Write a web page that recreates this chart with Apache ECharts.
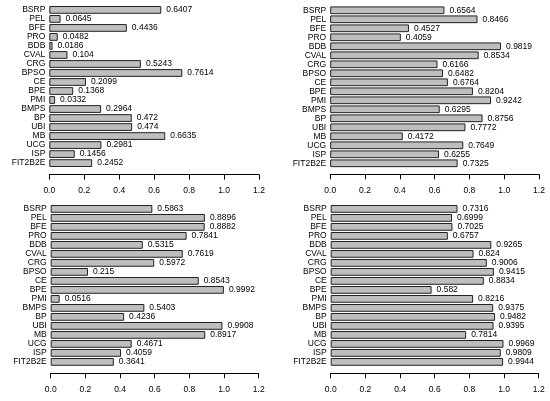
<!DOCTYPE html>
<html>
<head>
<meta charset="utf-8">
<script src="https://cdn.jsdelivr.net/npm/echarts@6/dist/echarts.min.js"></script>
<style>html,body{margin:0;padding:0;background:#fff}#c{width:550px;height:401px}</style>
</head>
<body>
<div id="c"></div>
<script>
const categories = ['BSRP','PEL','BFE','PRO','BDB','CVAL','CRG','BPSO','CE','BPE','PMI','BMPS','BP','UBI','MB','UCG','ISP','FIT2B2E'];
const panelTopLeft = [0.6407,0.0645,0.4436,0.0482,0.0186,0.104,0.5243,0.7614,0.2099,0.1368,0.0332,0.2964,0.472,0.474,0.6635,0.2981,0.1456,0.2452];
const panelTopRight = [0.6564,0.8466,0.4527,0.4059,0.9819,0.8534,0.6166,0.6482,0.6764,0.8204,0.9242,0.6295,0.8756,0.7772,0.4172,0.7649,0.6255,0.7325];
const panelBottomLeft = [0.5863,0.8896,0.8882,0.7841,0.5315,0.7619,0.5972,0.215,0.8543,0.9992,0.0516,0.5403,0.4236,0.9908,0.8917,0.4671,0.4059,0.3641];
const panelBottomRight = [0.7316,0.6999,0.7025,0.6757,0.9265,0.824,0.9006,0.9415,0.8834,0.582,0.8216,0.9375,0.9482,0.9395,0.7814,0.9969,0.9809,0.9944];
const xTicks = [0, 0.2, 0.4, 0.6, 0.8, 1.0, 1.2];

const FONT = 'Liberation Sans, Arial, Helvetica, sans-serif';
const panels = [
  {data: panelTopLeft, left: 49.3, top: 5.4, width: 209.7, height: 162.2, offset: 7},
  {data: panelTopRight, left: 330.2, top: 5.8, width: 208.8, height: 162.0, offset: 6.5},
  {data: panelBottomLeft, left: 50.7, top: 204.4, width: 208, height: 162.0, offset: 6.8},
  {data: panelBottomRight, left: 330.7, top: 204.4, width: 208, height: 162.0, offset: 6.8}
];

const grid = [], xAxis = [], yAxis = [], series = [];
panels.forEach((p, i) => {
  grid.push({left: p.left, top: p.top, width: p.width, height: p.height, containLabel: false});
  xAxis.push({
    type: 'value', gridIndex: i, min: xTicks[0], max: xTicks[xTicks.length - 1], interval: 0.2,
    position: 'bottom', offset: p.offset,
    axisLine: {show: true, lineStyle: {color: '#000', width: 1}},
    axisTick: {show: true, inside: false, length: 5, lineStyle: {color: '#000', width: 1}},
    axisLabel: {color: '#000', fontSize: 8.5, fontFamily: FONT, margin: 12, formatter: v => v.toFixed(1)},
    splitLine: {show: false}
  });
  yAxis.push({
    type: 'category', gridIndex: i, data: categories, inverse: true,
    axisLine: {show: false}, axisTick: {show: false},
    axisLabel: {color: '#000', fontSize: 8.5, fontFamily: FONT, margin: 4, interval: 0},
    splitLine: {show: false}
  });
  series.push({
    type: 'bar', xAxisIndex: i, yAxisIndex: i, data: p.data,
    barCategoryGap: '14%',
    itemStyle: {color: '#bebebe', borderColor: '#222', borderWidth: 1},
    label: {show: true, position: 'right', distance: 5, color: '#000', fontSize: 8.5, fontFamily: FONT,
            formatter: d => String(d.value)},
    animation: false
  });
});

const chart = echarts.init(document.getElementById('c'), null, {renderer: 'canvas'});
chart.setOption({animation: false, grid, xAxis, yAxis, series});
</script>
</body>
</html>
